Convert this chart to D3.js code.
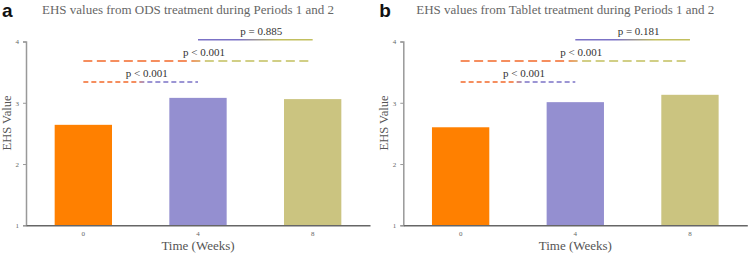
<!DOCTYPE html>
<html>
<head>
<meta charset="utf-8">
<script src="https://cdn.jsdelivr.net/npm/d3@7"></script>
<style>
  body { margin: 0; background: #fff; }
  text { font-family: "Liberation Serif", "DejaVu Serif", serif; }
</style>
</head>
<body>
<div class="chart"></div>
<script>
// chart values
const weeks = ["0", "4", "8"]
const odsValues = [2.64, 3.08, 3.06]
const tabletValues = [2.60, 3.01, 3.13]
const yTicks = [1, 2, 3, 4]
const pairs = [[0, 1], [0, 2], [1, 2]]
const pairLevels = [3.34, 3.68, 4.03]
const odsPvalues = ["p < 0.001", "p < 0.001", "p = 0.885"]
const tabletPvalues = ["p < 0.001", "p < 0.001", "p = 0.181"]

const barColours = ["#ff8000", "#948fd0", "#cbc480"]
const lineColours = ["#f2692a", "#7b72c6", "#c2bf5e"]

const svg = d3.select(".chart").append("svg").attr("width", 750).attr("height", 254)
const defs = svg.append("defs")

const x = d3.scaleBand().domain(weeks).range([26, 370]).paddingInner(0.5).paddingOuter(0.25)
const y = d3.scaleLinear().domain([1, 4]).range([225.3, 41.5])

function drawPanel(id, letter, title, values, pvals, offset) {
    const g = svg.append("g").attr("transform", `translate(${offset},0)`)

    g.append("text").attr("x", 2).attr("y", 17).text(letter)
        .style("font-family", "Liberation Sans, Arial, sans-serif").style("font-weight", "bold")
        .style("font-size", "19px").attr("fill", "#111")

    g.append("text").attr("x", 188).attr("y", 14).attr("text-anchor", "middle")
        .style("font-size", "13px").attr("fill", "#666").text(title)

    // bars
    g.selectAll("rect.bar").data(values).enter().append("rect").attr("class", "bar")
        .attr("x", (d, i) => x(weeks[i])).attr("width", x.bandwidth())
        .attr("y", d => y(d)).attr("height", d => y(1) - y(d))
        .attr("fill", (d, i) => barColours[i])

    // y axis
    const yAxis = g.append("g").attr("transform", "translate(26,0)")
        .call(d3.axisLeft(y).tickValues(yTicks).tickSize(3).tickPadding(4).tickFormat(d3.format("d")))
    yAxis.select(".domain").attr("stroke", "#999").attr("stroke-width", 1.5)
    yAxis.selectAll(".tick line").attr("stroke", "#999")
    yAxis.selectAll(".tick text").style("font-size", "7px").attr("fill", "#666")
        .style("font-family", "Liberation Serif, serif")

    // x axis
    const xAxis = g.append("g").attr("transform", `translate(0,${y(1)})`)
        .call(d3.axisBottom(x).tickSize(0).tickPadding(6))
    xAxis.select(".domain").attr("stroke", "#666").attr("stroke-width", 1.5)
    xAxis.selectAll(".tick text").style("font-size", "7px").attr("fill", "#666")
        .style("font-family", "Liberation Serif, serif")

    g.append("text").attr("x", 198).attr("y", 250).attr("text-anchor", "middle")
        .style("font-size", "13px").attr("fill", "#555").text("Time (Weeks)")
    g.append("text").attr("transform", "translate(11,123) rotate(-90)").attr("text-anchor", "middle")
        .style("font-size", "12.5px").attr("fill", "#555").text("EHS Value")

    // significance brackets
    pairs.forEach((p, k) => {
        const x1 = x(weeks[p[0]]) + x.bandwidth() / 2
        const x2 = x(weeks[p[1]]) + x.bandwidth() / 2
        const gid = `${id}grad${k}`
        const grad = defs.append("linearGradient").attr("id", gid)
            .attr("gradientUnits", "userSpaceOnUse")
            .attr("x1", x1).attr("x2", x2).attr("y1", 0).attr("y2", 0)
        const c1 = lineColours[p[0]], c2 = lineColours[p[1]]
        if (k == 2) {
            grad.append("stop").attr("offset", "0%").attr("stop-color", c1)
            grad.append("stop").attr("offset", "35%").attr("stop-color", c1)
            grad.append("stop").attr("offset", "70%").attr("stop-color", c2)
            grad.append("stop").attr("offset", "100%").attr("stop-color", c2)
        } else {
            grad.append("stop").attr("offset", "0%").attr("stop-color", c1)
            grad.append("stop").attr("offset", "46%").attr("stop-color", c1)
            grad.append("stop").attr("offset", "54%").attr("stop-color", c2)
            grad.append("stop").attr("offset", "100%").attr("stop-color", c2)
        }
        g.append("line").attr("x1", x1).attr("x2", x2)
            .attr("y1", y(pairLevels[k])).attr("y2", y(pairLevels[k]))
            .attr("stroke", `url(#${gid})`).attr("stroke-width", 1.5)
            .attr("stroke-dasharray", k == 0 ? "5,3" : k == 1 ? "9,4.5" : null)
        g.append("text").attr("x", (x1 + x2) / 2 + 6).attr("y", y(pairLevels[k]) - 5)
            .attr("text-anchor", "middle").style("font-size", "11px").attr("fill", "#333")
            .text(pvals[k])
    })
}

drawPanel("a", "a", "EHS values from ODS treatment during Periods 1 and 2", odsValues, odsPvalues, 0)
drawPanel("b", "b", "EHS values from Tablet treatment during Periods 1 and 2", tabletValues, tabletPvalues, 377.3)
</script>
</body>
</html>
